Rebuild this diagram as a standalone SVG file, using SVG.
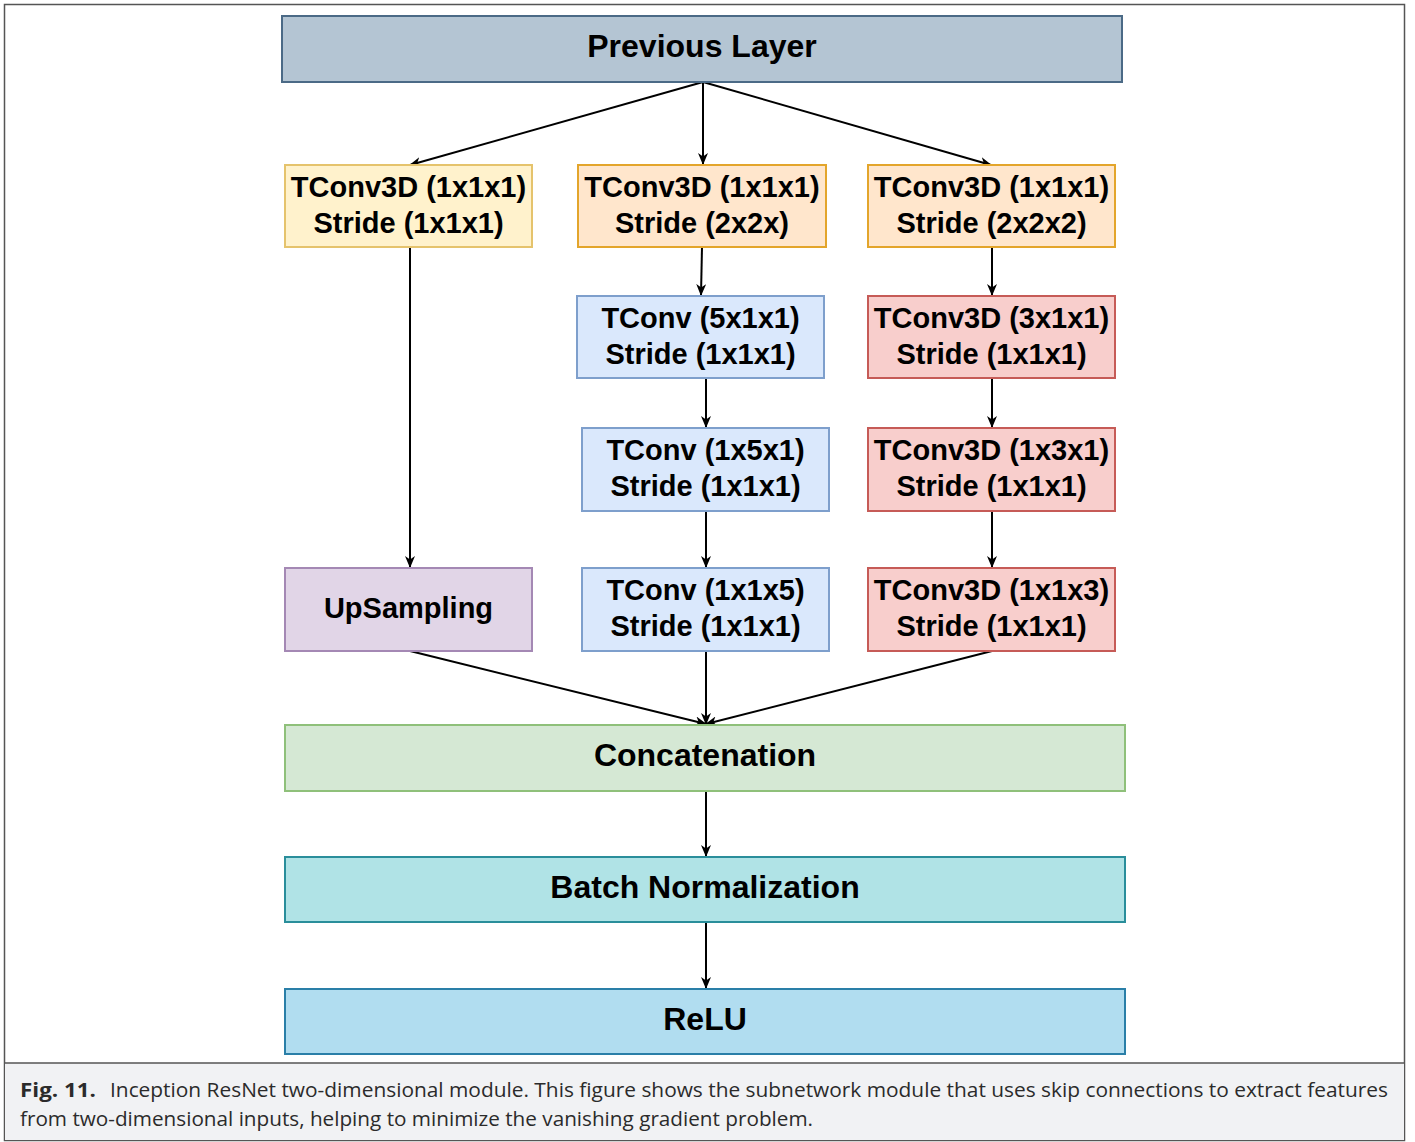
<svg xmlns="http://www.w3.org/2000/svg" width="1415" height="1142" viewBox="0 0 1415 1142">
<style>
.n{stroke-width:2}
.t{font-family:"Liberation Sans",Arial,sans-serif;font-weight:bold;font-size:29px;fill:#000;text-anchor:middle}
.tb{font-family:"Liberation Sans",Arial,sans-serif;font-weight:bold;font-size:32px;fill:#000;text-anchor:middle}
.e{fill:none;stroke:#000;stroke-width:2}
.cap{font-family:"Open Sans","Noto Sans",sans-serif;font-size:20px;fill:#2b2b2b}
</style>
<defs>
<marker id="ah" viewBox="0 0 12 10" refX="11" refY="5" markerWidth="12" markerHeight="10" markerUnits="userSpaceOnUse" orient="auto">
<path d="M0,0 L12,5 L0,10 L3.5,5 z" fill="#000"/>
</marker>
</defs>
<rect x="0" y="0" width="1415" height="1142" fill="#fff"/>
<rect x="4.5" y="4.5" width="1400" height="1136" fill="#fff" stroke="#555" stroke-width="1.5"/>
<rect x="5" y="1063" width="1399" height="77" fill="#f1f2f4"/>
<line x1="4.5" y1="1063" x2="1404.5" y2="1063" stroke="#555" stroke-width="1.5"/>

<g id="connectors">
<path class="e" d="M703,82 L410,165" marker-end="url(#ah)"/>
<path class="e" d="M703,82 L703,164" marker-end="url(#ah)"/>
<path class="e" d="M703,82 L991,165" marker-end="url(#ah)"/>
<path class="e" d="M410,247 L410,567" marker-end="url(#ah)"/>
<path class="e" d="M702,247 L701,295" marker-end="url(#ah)"/>
<path class="e" d="M706,378 L706,427" marker-end="url(#ah)"/>
<path class="e" d="M706,511 L706,567" marker-end="url(#ah)"/>
<path class="e" d="M992,247 L992,295" marker-end="url(#ah)"/>
<path class="e" d="M992,378 L992,427" marker-end="url(#ah)"/>
<path class="e" d="M992,511 L992,567" marker-end="url(#ah)"/>
<path class="e" d="M410,651 L706,724" marker-end="url(#ah)"/>
<path class="e" d="M706,651 L706,724" marker-end="url(#ah)"/>
<path class="e" d="M992,651 L706,724" marker-end="url(#ah)"/>
<path class="e" d="M706,791 L706,856" marker-end="url(#ah)"/>
<path class="e" d="M706,922 L706,988" marker-end="url(#ah)"/>
</g>

<g id="prev"><rect class="n" x="282" y="16" width="840" height="66" fill="#b4c5d3" stroke="#4b6a86"/><text class="tb" x="702" y="57">Previous Layer</text></g>

<g id="b1a"><rect class="n" x="285" y="165" width="247" height="82" fill="#fff2cc" stroke="#e5c36c"/><text class="t" x="408.5" y="197">TConv3D (1x1x1)</text><text class="t" x="408.5" y="233">Stride (1x1x1)</text></g>
<g id="b2a"><rect class="n" x="578" y="165" width="248" height="82" fill="#ffe6cc" stroke="#e3a52b"/><text class="t" x="702" y="197">TConv3D (1x1x1)</text><text class="t" x="702" y="233">Stride (2x2x)</text></g>
<g id="b3a"><rect class="n" x="868" y="165" width="247" height="82" fill="#ffe6cc" stroke="#e3a52b"/><text class="t" x="991.5" y="197">TConv3D (1x1x1)</text><text class="t" x="991.5" y="233">Stride (2x2x2)</text></g>

<g id="b2b"><rect class="n" x="577" y="296" width="247" height="82" fill="#dae8fc" stroke="#7e9fcc"/><text class="t" x="700.5" y="328">TConv (5x1x1)</text><text class="t" x="700.5" y="364">Stride (1x1x1)</text></g>
<g id="b3b"><rect class="n" x="868" y="296" width="247" height="82" fill="#f8cecc" stroke="#c65b57"/><text class="t" x="991.5" y="328">TConv3D (3x1x1)</text><text class="t" x="991.5" y="364">Stride (1x1x1)</text></g>

<g id="b2c"><rect class="n" x="582" y="428" width="247" height="83" fill="#dae8fc" stroke="#7e9fcc"/><text class="t" x="705.5" y="460">TConv (1x5x1)</text><text class="t" x="705.5" y="496">Stride (1x1x1)</text></g>
<g id="b3c"><rect class="n" x="868" y="428" width="247" height="83" fill="#f8cecc" stroke="#c65b57"/><text class="t" x="991.5" y="460">TConv3D (1x3x1)</text><text class="t" x="991.5" y="496">Stride (1x1x1)</text></g>

<g id="b1d"><rect class="n" x="285" y="568" width="247" height="83" fill="#e1d5e7" stroke="#a488b4"/><text class="t" x="408.5" y="618">UpSampling</text></g>
<g id="b2d"><rect class="n" x="582" y="568" width="247" height="83" fill="#dae8fc" stroke="#7e9fcc"/><text class="t" x="705.5" y="600">TConv (1x1x5)</text><text class="t" x="705.5" y="636">Stride (1x1x1)</text></g>
<g id="b3d"><rect class="n" x="868" y="568" width="247" height="83" fill="#f8cecc" stroke="#c65b57"/><text class="t" x="991.5" y="600">TConv3D (1x1x3)</text><text class="t" x="991.5" y="636">Stride (1x1x1)</text></g>

<g id="concat"><rect class="n" x="285" y="725" width="840" height="66" fill="#d5e8d4" stroke="#8fc07a"/><text class="tb" x="705" y="766">Concatenation</text></g>
<g id="bn"><rect class="n" x="285" y="857" width="840" height="65" fill="#b0e3e6" stroke="#2a8e9b"/><text class="tb" x="705" y="898">Batch Normalization</text></g>
<g id="relu"><rect class="n" x="285" y="989" width="840" height="65" fill="#b1ddf0" stroke="#2a7fa8"/><text class="tb" x="705" y="1030">ReLU</text></g>

<g id="caption">
<text class="cap" x="20" y="1097" font-weight="bold" textLength="76" lengthAdjust="spacingAndGlyphs">Fig. 11.</text>
<text class="cap" x="110" y="1097" textLength="1278" lengthAdjust="spacingAndGlyphs">Inception ResNet two-dimensional module. This figure shows the subnetwork module that uses skip connections to extract features</text>
<text class="cap" x="20" y="1126" textLength="793" lengthAdjust="spacingAndGlyphs">from two-dimensional inputs, helping to minimize the vanishing gradient problem.</text>
</g>
</svg>
